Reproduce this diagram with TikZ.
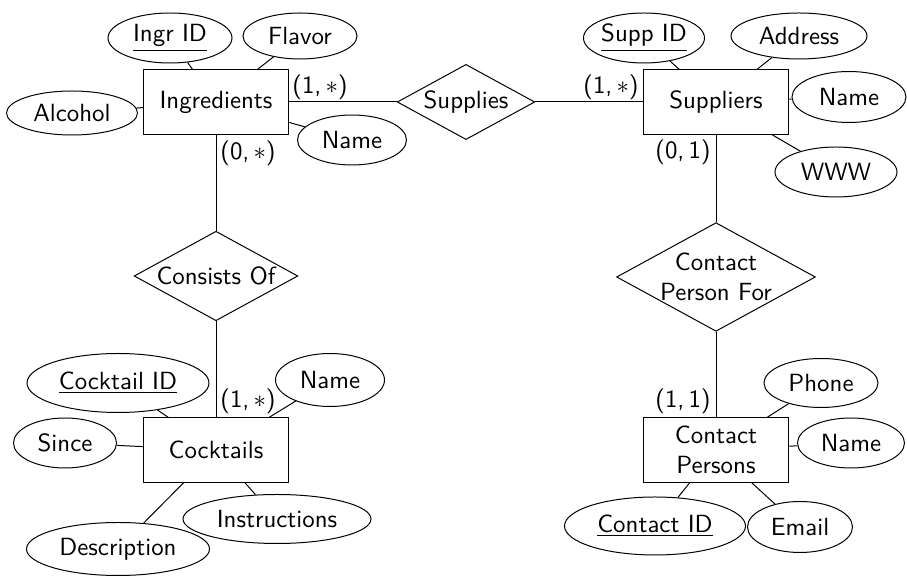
\documentclass[tikz,border=0pt]{standalone}
\usetikzlibrary{shapes.geometric}
\begin{document}
\begin{tikzpicture}[x=0.402pt, y=-0.402pt, font=\sffamily,
  entity/.style={draw, rectangle, minimum width=58.5pt, minimum height=26pt, align=center},
  relation/.style={draw, diamond, aspect=1.83, inner sep=0.8pt, align=center},
  attribute/.style 2 args={draw, ellipse, inner sep=0pt,
    minimum width=#1*0.402pt, minimum height=#2*0.402pt}]
  % Fix the size of the picture
  \useasboundingbox (0,0) rectangle (907,576);

  % Place the entities
  \node[entity] (Ingr) at (216,102) {Ingredients};
  \node[entity] (Supp) at (716,102) {Suppliers};
  \node[entity] (Cock) at (216,450) {Cocktails};
  \node[entity] (Cont) at (716,450) {Contact\\Persons};

  % Place the relationships between them
  \node[relation] (Supplies) at (466,102) {Supplies};
  \node[relation] (Consists) at (216,276) {Consists Of};
  \node[relation, inner sep=0pt] (ContFor) at (716,277) {Contact\\Person For};

  % Attributes of Ingredients
  \node[attribute={124}{50}] (IngrID) at (170,38) {\underline{Ingr ID}};
  \node[attribute={114}{46}] (IngrFlavor) at (300,36) {Flavor};
  \node[attribute={131}{44}] (IngrAlcohol) at (72,113) {Alcohol};
  \node[attribute={109}{50}] (IngrName) at (352,140) {Name};

  % Attributes of Suppliers
  \node[attribute={119}{50}] (SuppID) at (644,38) {\underline{Supp ID}};
  \node[attribute={136}{46}] (SuppAddress) at (799,36) {Address};
  \node[attribute={114}{51}] (SuppName) at (849,97) {Name};
  \node[attribute={122}{50}] (SuppWWW) at (836,172) {WWW};

  % Attributes of Cocktails
  \node[attribute={182}{59}] (CockID) at (118,383) {\underline{Cocktail ID}};
  \node[attribute={109}{53}] (CockName) at (330,380) {Name};
  \node[attribute={103}{50}] (CockSince) at (65,443) {Since};
  \node[attribute={188}{49}] (CockInstr) at (277,519) {Instructions};
  \node[attribute={183}{53}] (CockDescr) at (118,549) {Description};

  % Attributes of Contact Persons
  \node[attribute={114}{49}] (ContPhone) at (821,383) {Phone};
  \node[attribute={107}{50}] (ContName) at (851,443) {Name};
  \node[attribute={181}{58}] (ContID) at (655,526) {\underline{Contact ID}};
  \node[attribute={105}{51}] (ContEmail) at (800,527) {Email};

  % Connect every attribute and relationship to its entity
  \foreach \a/\b in {Ingr/IngrID, Ingr/IngrFlavor, Ingr/IngrAlcohol, Ingr/IngrName,
                     Supp/SuppID, Supp/SuppAddress, Supp/SuppName, Supp/SuppWWW,
                     Cock/CockID, Cock/CockName, Cock/CockSince, Cock/CockInstr, Cock/CockDescr,
                     Cont/ContPhone, Cont/ContName, Cont/ContID, Cont/ContEmail,
                     Ingr/Supplies, Supplies/Supp, Ingr/Consists, Consists/Cock,
                     Supp/ContFor, ContFor/Cont} {
    \draw (\a) -- (\b);
  }

  % Cardinalities
  \node (cardIS) at (320,87) {(1,\,$*$)};
  \node (cardSS) at (611,87) {(1,\,$*$)};
  \node (cardIC) at (248,153) {(0,\,$*$)};
  \node (cardCC) at (248,401) {(1,\,$*$)};
  \node (cardSC) at (683,152) {(0,\,1)};
  \node (cardCP) at (683,401) {(1,\,1)};
\end{tikzpicture}
\end{document}
